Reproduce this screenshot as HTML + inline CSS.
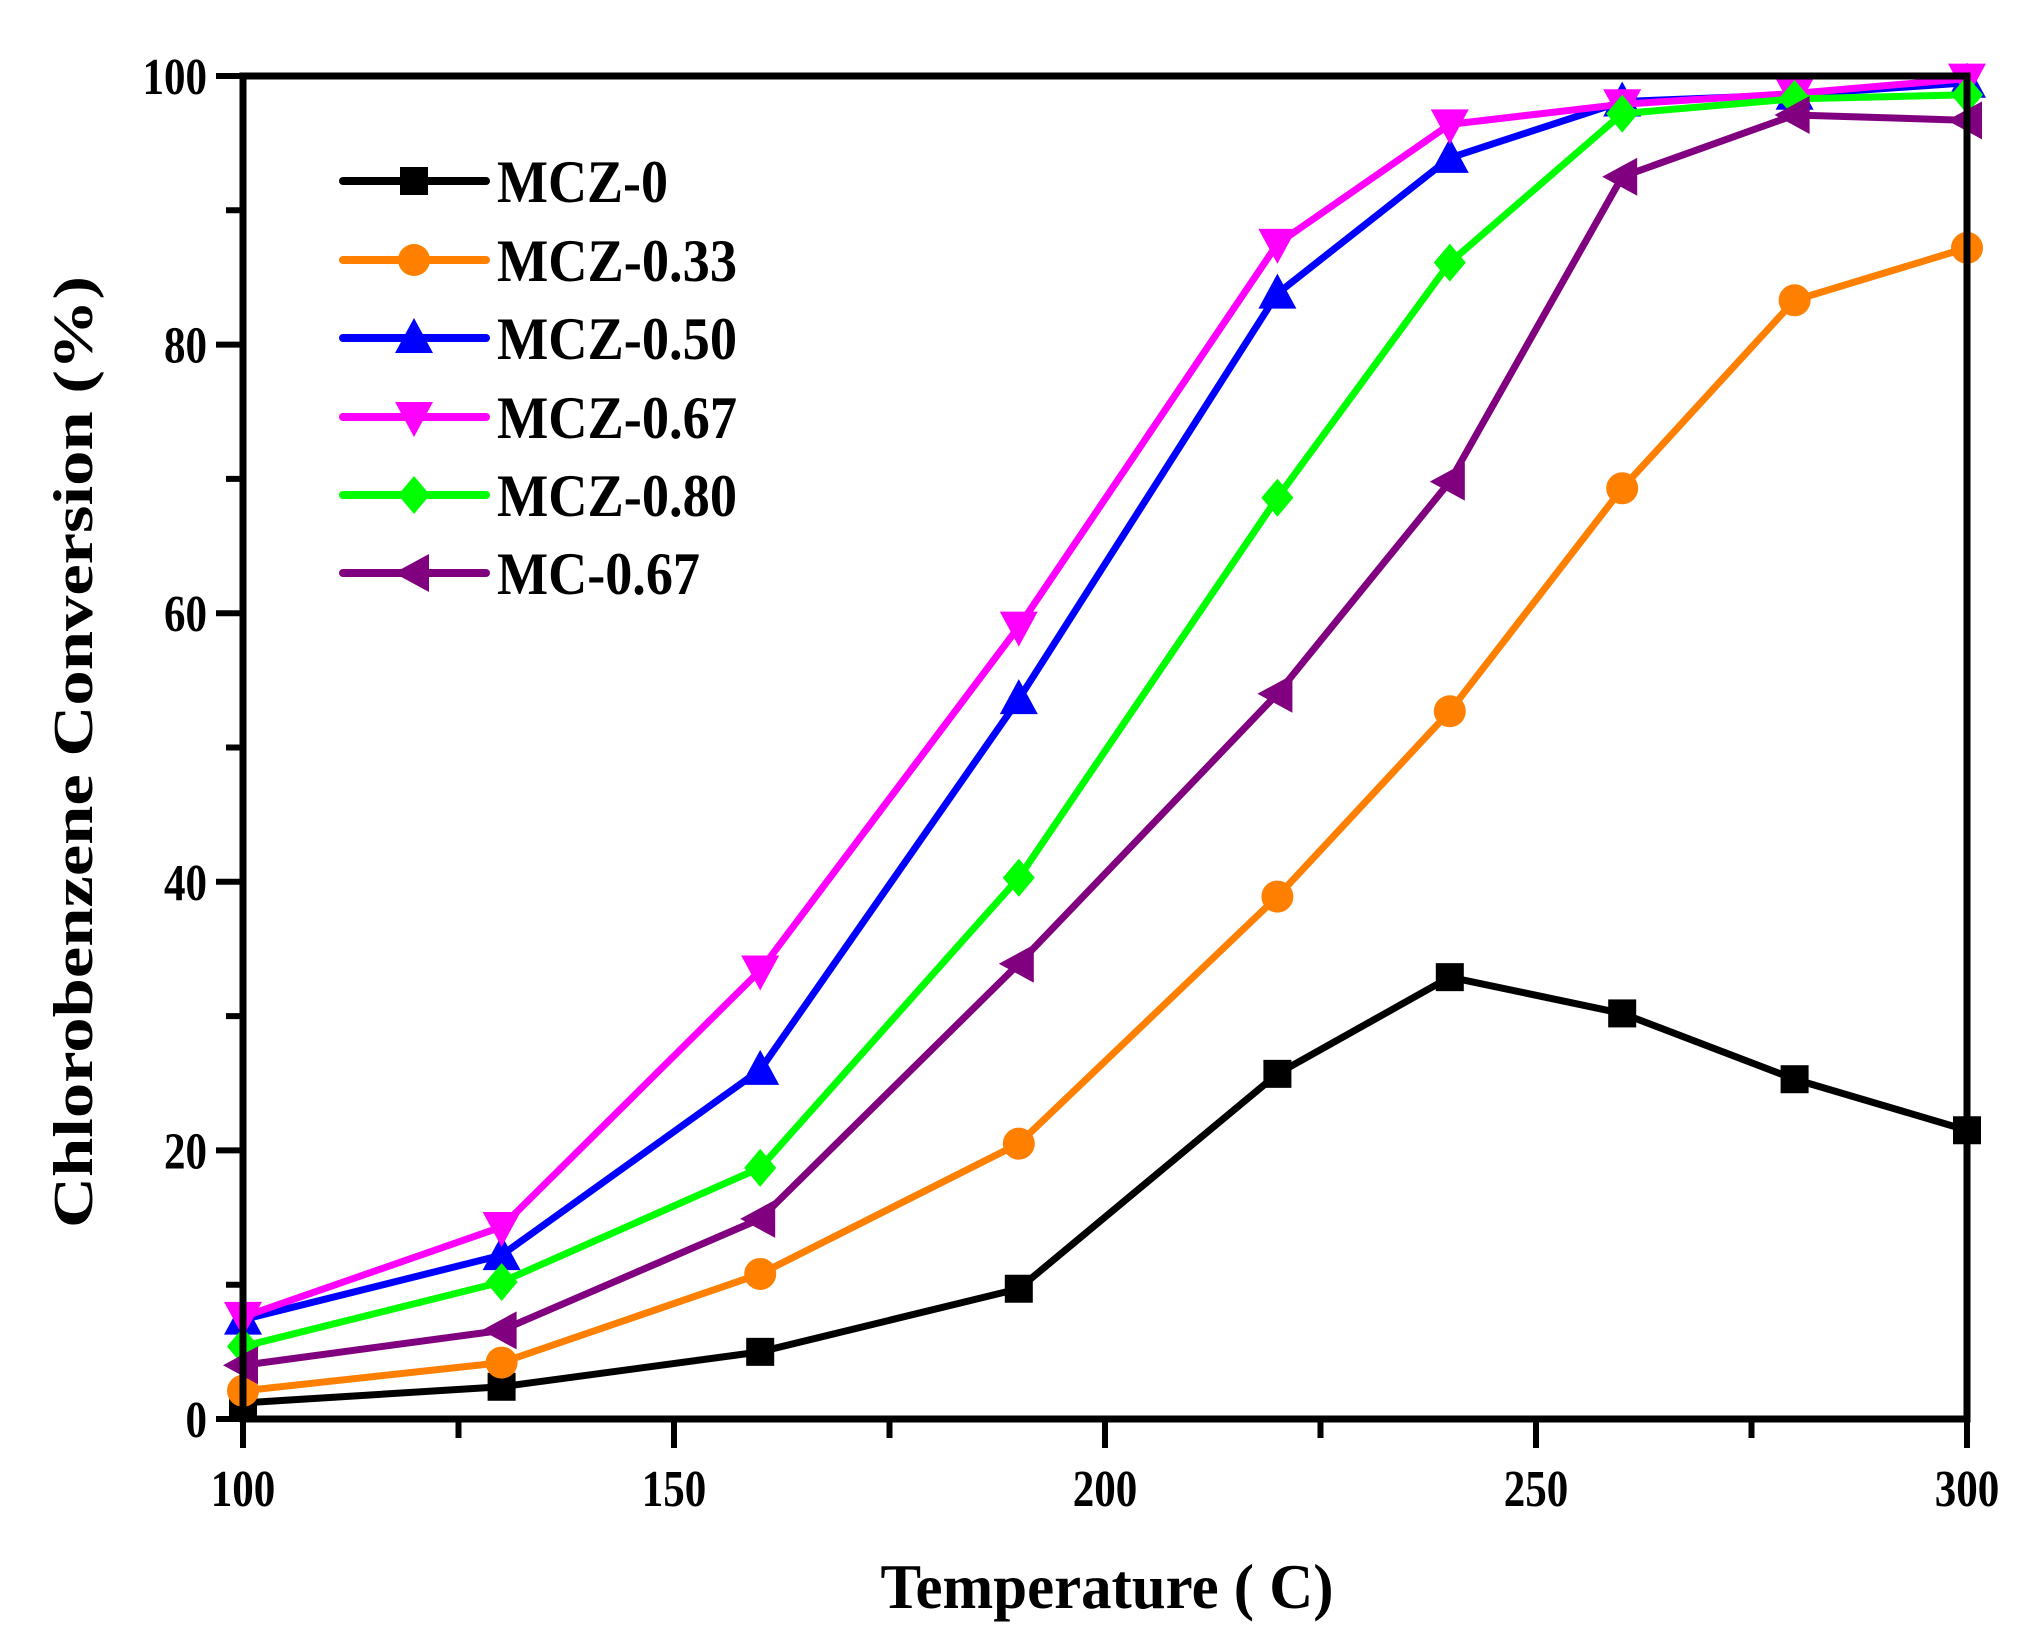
<!DOCTYPE html>
<html><head><meta charset="utf-8"><style>
html,body{margin:0;padding:0;background:#fff;}
svg{display:block;font-family:"Liberation Serif",serif;font-weight:bold;}
</style></head><body>
<svg id="chart" width="2030" height="1641" viewBox="0 0 2030 1641" xmlns="http://www.w3.org/2000/svg"></svg>
<script>
const temps = [100,130,160,190,220,240,260,280,300];
const mcz0 = [1.2,2.4,5.0,9.7,25.7,32.9,30.2,25.3,21.5];
const mcz033 = [2.1,4.2,10.8,20.5,38.9,52.7,69.3,83.3,87.2];
const mcz050 = [7.4,12.2,26.0,53.6,83.8,93.9,98.1,98.6,99.5];
const mcz067 = [7.6,14.3,33.4,59.0,87.5,96.4,97.9,98.7,99.8];
const mcz080 = [5.4,10.2,18.7,40.3,68.6,86.1,97.2,98.3,98.6];
const mc067 = [4.0,6.6,14.9,33.9,54.0,69.8,92.5,97.1,96.7];
const seriesNames = ["MCZ-0","MCZ-0.33","MCZ-0.50","MCZ-0.67","MCZ-0.80","MC-0.67"];
const xTicks = [100,150,200,250,300];
const yTicks = [0,20,40,60,80,100];

const svg = document.getElementById('chart');
const NS = "http://www.w3.org/2000/svg";
const X0=243, X1=1967, Y0=1419, Y1=76;
const xs = v => X0 + (v-100)/200*(X1-X0);
const ys = v => Y0 - v/100*(Y0-Y1);
function mk(tag, attrs, parent){const e=document.createElementNS(NS,tag);for(const k in attrs)e.setAttribute(k,attrs[k]);(parent||svg).appendChild(e);return e;}

const colors=["#000000","#ff7f00","#0000ff","#ff00ff","#00ff00","#800080"];
const shapes=["square","circle","up","down","diamond","left"];
const data=[mcz0,mcz033,mcz050,mcz067,mcz080,mc067];

function marker(g,shape,x,y,c){
  const s=18;let e;
  if(shape==="square") e=mk('rect',{x:x-14,y:y-14,width:28,height:28,fill:c},g);
  else if(shape==="circle") e=mk('circle',{cx:x,cy:y,r:16,fill:c},g);
  else if(shape==="up") e=mk('polygon',{points:`${x},${y-s-2} ${x+s+1},${y+s-3} ${x-s-1},${y+s-3}`,fill:c},g);
  else if(shape==="down") e=mk('polygon',{points:`${x},${y+s+2} ${x+s+1},${y-s+3} ${x-s-1},${y-s+3}`,fill:c},g);
  else if(shape==="diamond") e=mk('polygon',{points:`${x},${y-s-1} ${x+s-2},${y} ${x},${y+s+1} ${x-s+2},${y}`,fill:c},g);
  else e=mk('polygon',{points:`${x-s-2},${y} ${x+s-3},${y-s-1} ${x+s-3},${y+s+1}`,fill:c},g);
  return e;
}

data.forEach((arr,i)=>{
  const g=mk('g',{});
  
  
  const pts=arr.map((v,j)=>xs(temps[j])+','+ys(v)).join(' ');
  const pl=mk('polyline',{points:pts,fill:'none',stroke:colors[i],'stroke-width':7,'stroke-linejoin':'round'},g);
  
  
  arr.forEach((v,j)=>{
    const m=marker(g,shapes[i],xs(temps[j]),ys(v),colors[i]);
    
    
  });
});

const fr=mk('rect',{x:X0,y:Y1,width:X1-X0,height:Y0-Y1,fill:'none',stroke:'#000','stroke-width':7});



for(let v=100;v<=300;v+=25){
  const major=(v%50===0);
  const t=mk('line',{x1:xs(v),x2:xs(v),y1:Y0,y2:Y0+(major?29:19),stroke:'#000','stroke-width':6});
  
  
}
xTicks.forEach(v=>{
  const s=String(v);
  const t=mk('text',{x:xs(v),y:1506,'font-size':52,'text-anchor':'middle',textLength:s.length*21.5,lengthAdjust:'spacingAndGlyphs'});
  t.textContent=s;
  
  
});
for(let v=0;v<=100;v+=10){
  const major=(v%20===0);
  const t=mk('line',{x1:X0,x2:X0-(major?27:17),y1:ys(v),y2:ys(v),stroke:'#000','stroke-width':6});
  
  
}
yTicks.forEach(v=>{
  const s=String(v);
  const t=mk('text',{x:207,y:ys(v)+18,'font-size':52,'text-anchor':'end',textLength:s.length*21.5,lengthAdjust:'spacingAndGlyphs'});
  t.textContent=s;
  
  
});

const xt=mk('text',{x:1107,y:1608,'font-size':64,'text-anchor':'middle',textLength:453,lengthAdjust:'spacingAndGlyphs'});
xt.textContent='Temperature ( C)';


const yt=mk('text',{x:0,y:0,'font-size':56,'text-anchor':'middle',transform:'translate(92,752) rotate(-90)',textLength:952,lengthAdjust:'spacingAndGlyphs'});
yt.textContent='Chlorobenzene Conversion (%)';



const lg=mk('g',{});


const rowsY=[181,260,338,417,495,573];
const legendLen=[171,240,240,240,240,203];
seriesNames.forEach((n,i)=>{
  const g=mk('g',{},lg);
  
  
  mk('line',{x1:343,x2:486,y1:rowsY[i],y2:rowsY[i],stroke:colors[i],'stroke-width':8,'stroke-linecap':'round'},g);
  marker(g,shapes[i],414,rowsY[i],colors[i]);
  const t=mk('text',{x:497,y:rowsY[i]+21,'font-size':60,textLength:legendLen[i],lengthAdjust:'spacingAndGlyphs'},g);
  t.textContent=n;
});
</script>
</body></html>
